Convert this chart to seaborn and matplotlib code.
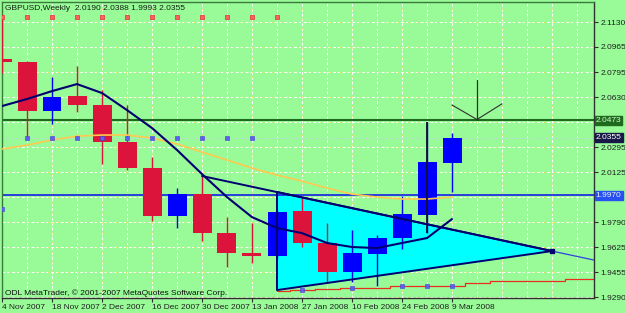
import numpy as np
import pandas as pd
import matplotlib
matplotlib.use("Agg")
import matplotlib.pyplot as plt
import matplotlib.transforms as mtransforms
import seaborn as sns

# ---------------- data ----------------
week_idx = list(range(19))
date_tick_pos = [0, 2, 4, 6, 8, 10, 12, 14, 16, 18]
date_tick_labels = ["4 Nov 2007", "18 Nov 2007", "2 Dec 2007", "16 Dec 2007", "30 Dec 2007",
                    "13 Jan 2008", "27 Jan 2008", "10 Feb 2008", "24 Feb 2008", "9 Mar 2008"]

open_ = [2.0880, 2.0862, 2.0535, 2.0635, 2.0575, 2.0327, 2.0153, 1.9832, 1.9979, 1.9718,
         1.9585, 1.9565, 1.9866, 1.9652, 1.9458, 1.9578, 1.9685, 1.9839, 2.0190]
high = [2.1177, 2.0866, 2.0762, 2.0836, 2.0675, 2.0575, 2.0227, 2.0020, 2.0100, 1.9825,
        1.9785, 1.9870, 1.9953, 1.9785, 1.9739, 1.9705, 1.9966, 2.0461, 2.0388]
low = [2.0789, 2.0361, 2.0448, 2.0528, 2.0180, 2.0140, 1.9799, 1.9752, 1.9665, 1.9491,
       1.9518, 1.9550, 1.9625, 1.9391, 1.9391, 1.9364, 1.9611, 1.9718, 1.9993]
close = [2.0860, 2.0535, 2.0628, 2.0575, 2.0327, 2.0153, 1.9832, 1.9979, 1.9718, 1.9585,
         1.9565, 1.9859, 1.9652, 1.9458, 1.9585, 1.9685, 1.9846, 2.0193, 2.0355]

ma_fast = [2.0568, 2.0615, 2.0668, 2.0715, 2.0655, 2.0541, 2.0421, 2.0274, 2.0113, 1.9959,
           1.9825, 1.9752, 1.9718, 1.9652, 1.9625, 1.9618, 1.9652, 1.9685, 1.9812]
ma_slow = [2.0280, 2.0307, 2.0341, 2.0367, 2.0374, 2.0374, 2.0354, 2.0314, 2.0260, 2.0207,
           2.0153, 2.0106, 2.0066, 2.0019, 1.9979, 1.9959, 1.9946, 1.9946, 1.9959]

red_dot_idx = [0, 1, 2, 3, 4, 5, 6, 7, 8, 9, 10, 11]
red_dot_val = [2.1163] * 12
blue_dot_idx = [0, 1, 2, 3, 4, 5, 6, 7, 8, 9, 10, 12, 14, 16, 17, 18]
blue_dot_val = [1.9879, 2.0355, 2.0355, 2.0355, 2.0355, 2.0355, 2.0355, 2.0355, 2.0355, 2.0355,
                2.0355, 1.9337, 1.9350, 1.9364, 1.9364, 1.9364]
red_line_idx = [11, 12, 13, 14, 15, 16, 17, 18, 19, 20, 21, 22, 23, 23.7]
red_line_val = [1.9330, 1.9337, 1.9344, 1.9350, 1.9350, 1.9364, 1.9364, 1.9364, 1.9384,
                1.9397, 1.9397, 1.9397, 1.9411, 1.9411]

triangle_x = [11, 11, 22]
triangle_y = [1.9993, 1.9337, 1.9598]
trend_x = [8, 22]
trend_y = [2.0100, 1.9598]

arrow_x = [18, 19, 20]
arrow_y = [2.0575, 2.0478, 2.0583]
arrow_stem_top = 2.0742

level_green = 2.0473
level_blue = 1.9970
bid = close[-1]

y_ticks = [2.1130, 2.0963, 2.0795, 2.0628, 2.0461, 2.0293, 2.0126, 1.9959, 1.9791, 1.9624, 1.9457, 1.9290]
y_tick_labels = ["2.1130", "2.0965", "2.0795", "2.0630", "", "2.0295", "2.0125", "", "1.9790",
                 "1.9625", "1.9455", "1.9290"]

symbol = "GBPUSD,Weekly"
copyright_txt = "ODL MetaTrader, \u00a9 2001-2007 MetaQuotes Software Corp."

# ---------------- style ----------------
sns.set_theme(style="white")
plt.rcParams["font.family"] = ["Liberation Sans Narrow", "Liberation Sans", "DejaVu Sans"]

BG = "#98FB98"
RED = "#DC143C"
BLUE = "#0000FF"
NAVY = "#000070"

fig = plt.figure(figsize=(6.25, 3.13), dpi=100, facecolor=BG)
ax = fig.add_axes([2 / 625, 15 / 313, 592 / 625, 296 / 313], facecolor=BG)
ax.set_xlim(0, 23.68)
ax.set_ylim(1.9284, 2.1264)

# grid
for yv in y_ticks:
    ax.axhline(yv, color="white", lw=0.7, ls=(0, (3, 2)), zorder=0.5)
    ax.axhline(yv, color="#F0D040", lw=0.7, ls=(3, (1, 9)), zorder=0.6)
for xv in range(0, 24):
    ax.axvline(xv, color="white", lw=0.7, ls=(0, (3, 2)), zorder=0.5)
    ax.axvline(xv, color="#F0D040", lw=0.7, ls=(3, (1, 9)), zorder=0.6)

# triangle fill
ax.fill(triangle_x, triangle_y, color="#00FFFF", zorder=1)

# levels
ax.axhline(level_green, color="#1E6B1E", lw=1.5, zorder=2)
ax.axhline(level_blue, color="#2030E0", lw=1.3, zorder=2)
ax.axhline(bid, color="#C8C8F0", lw=0.8, ls=(0, (1, 2)), zorder=2)

df = pd.DataFrame({"i": week_idx, "o": open_, "h": high, "l": low, "c": close,
                   "f": ma_fast, "s": ma_slow})
cols = [BLUE if c >= o else RED for o, c in zip(df.o, df.c)]

# candles
ax.vlines(df.i, df.l, df.h, colors=cols, lw=1.0, zorder=3)
ax.bar(df.i, df.c - df.o, bottom=df.o, width=0.76, color=cols, zorder=3.1, linewidth=0)
ax.vlines([df.i.iloc[17]], [df.l.iloc[17]], [df.h.iloc[17]], colors="#101030", lw=1.3, zorder=5)

# indicator lines
sns.lineplot(x=df.i, y=df.s, ax=ax, color="#FFC850", lw=1.2, zorder=4)
sns.lineplot(x=df.i, y=df.f, ax=ax, color=NAVY, lw=1.5, zorder=4.5)
ax.plot(red_line_idx, red_line_val, color="#E83020", lw=0.9, drawstyle="steps-mid", zorder=2.5)
sns.scatterplot(x=red_dot_idx, y=red_dot_val, ax=ax, marker="s", s=9, color="#FF6060",
                edgecolor="#E03030", linewidth=0.5, zorder=6)
sns.scatterplot(x=blue_dot_idx, y=blue_dot_val, ax=ax, marker="s", s=7, color="#6060F0",
                edgecolor="#4040D0", linewidth=0.4, zorder=6)

# triangle edges & trendline
tx = triangle_x + [triangle_x[0]]
ty = triangle_y + [triangle_y[0]]
ax.plot(tx, ty, color=NAVY, lw=1.4, zorder=5)
ax.plot(trend_x, trend_y, color=NAVY, lw=1.4, zorder=5)
slope = (trend_y[1] - trend_y[0]) / (trend_x[1] - trend_x[0])
xr = ax.get_xlim()[1]
ax.plot([trend_x[1], xr], [trend_y[1], trend_y[1] + slope * (xr - trend_x[1])],
        color="#3040E0", lw=0.9, zorder=5)
ax.plot([trend_x[1]], [trend_y[1]], marker="s", ms=3, color=NAVY, zorder=5)

# arrow
ax.plot(arrow_x, arrow_y, color="#303030", lw=0.8, zorder=5)
ax.plot([arrow_x[1], arrow_x[1]], [arrow_stem_top, arrow_y[1]], color="#303030", lw=0.9, zorder=5)

# axes styling
for side in ["left", "top"]:
    ax.spines[side].set_color("#3A7A3A")
    ax.spines[side].set_linewidth(1.0)
for side in ["right", "bottom"]:
    ax.spines[side].set_color("#303030")
    ax.spines[side].set_linewidth(1.0)

ax.yaxis.tick_right()
ax.set_yticks(y_ticks)
ax.set_yticklabels(y_tick_labels)
ax.set_xticks(date_tick_pos)
ax.set_xticklabels(date_tick_labels, ha="left")
ax.tick_params(axis="y", which="both", right=True, left=False, length=3, width=0.8,
               color="#303030", labelsize=6, labelcolor="#202020", pad=1.5)
ax.tick_params(axis="x", which="both", bottom=True, length=3, width=0.8,
               color="#303030", labelsize=6, labelcolor="#202020", pad=1.5)
ax.set_xlabel("")
ax.set_ylabel("")
ax.grid(False)

# right-side price boxes
trans = mtransforms.blended_transform_factory(ax.transAxes, ax.transData)
boxes = [(level_green, "#1E6B1E", "#D0FFD0"), (bid, "#181848", "white"), (level_blue, "#2850F0", "#E8F0FF")]
for val, bg, fg in boxes:
    ax.text(1.003, val, f"{val:.4f}", transform=trans, fontsize=6, color=fg, va="center", ha="left",
            bbox=dict(boxstyle="square,pad=0.12", facecolor=bg, edgecolor=bg), zorder=10, clip_on=False)

# header and footer texts
fig.text(5 / 625, 1 - 8 / 313,
         f"{symbol}  {open_[-1]:.4f} {high[-1]:.4f} {low[-1]:.4f} {close[-1]:.4f}",
         fontsize=6, color="#102010", va="center", ha="left")
fig.text(5 / 625, 1 - 293 / 313, copyright_txt, fontsize=6, color="#101010", va="center", ha="left")

fig.savefig("out.png", dpi=100, facecolor=BG)
